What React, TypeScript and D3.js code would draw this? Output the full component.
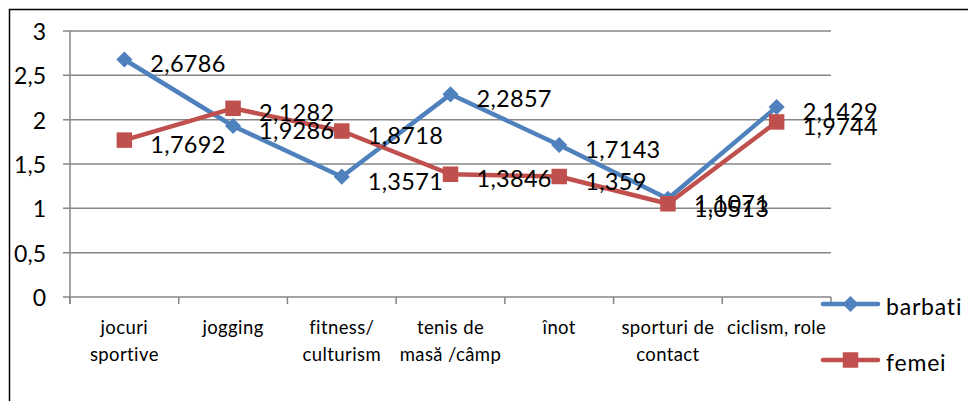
import * as d3 from 'd3';
import { useEffect, useRef } from 'react';

const categories = [
  ['jocuri', 'sportive'],
  ['jogging'],
  ['fitness/', 'culturism'],
  ['tenis de', 'masă /câmp'],
  ['înot'],
  ['sporturi de', 'contact'],
  ['ciclism, role'],
];
const barbati = [2.6786, 1.9286, 1.3571, 2.2857, 1.7143, 1.1071, 2.1429];
const femei = [1.7692, 2.1282, 1.8718, 1.3846, 1.359, 1.0513, 1.9744];
const yTicks = [0, 0.5, 1, 1.5, 2, 2.5, 3];

const W = 968;
const H = 401;
const FONT = 'Lato, "Open Sans", sans-serif';

export default function App() {
  const ref = useRef<SVGSVGElement>(null);

  useEffect(() => {
    const svg = d3.select(ref.current);
    svg.selectAll('*').remove();

    const left = 70, right = 831, top = 31, bottom = 297;
    const x = d3.scaleBand<number>().domain(d3.range(categories.length)).range([left, right]);
    const y = d3.scaleLinear().domain([0, 3]).range([bottom, top]);
    const cx = (i: number) => x(i)! + x.bandwidth() / 2;

    // outer frame
    svg.append('rect')
      .attr('x', 9.5).attr('y', 9.5)
      .attr('width', W + 20).attr('height', H + 20)
      .attr('fill', 'none').attr('stroke', '#000').attr('stroke-width', 1.5);

    // gridlines + y labels
    yTicks.forEach(t => {
      svg.append('line')
        .attr('x1', left - 7).attr('x2', right)
        .attr('y1', y(t)).attr('y2', y(t))
        .attr('stroke', '#868686').attr('stroke-width', 1.5);
      svg.append('text')
        .attr('x', 46).attr('y', y(t))
        .attr('text-anchor', 'end').attr('dominant-baseline', 'central')
        .attr('font-family', FONT).attr('font-size', 23)
        .text(String(t).replace('.', ','));
    });

    // y axis line
    svg.append('line')
      .attr('x1', left).attr('x2', left)
      .attr('y1', top).attr('y2', bottom + 7)
      .attr('stroke', '#868686').attr('stroke-width', 1.5);

    // category ticks
    d3.range(categories.length + 1).forEach(i => {
      const xx = i < categories.length ? x(i)! : right;
      svg.append('line')
        .attr('x1', xx).attr('x2', xx)
        .attr('y1', bottom).attr('y2', bottom + 7)
        .attr('stroke', '#868686').attr('stroke-width', 1.5);
    });

    // category labels
    categories.forEach((lines, i) => {
      const t = svg.append('text')
        .attr('text-anchor', 'middle')
        .attr('font-family', FONT).attr('font-size', 18.5)
        .attr('letter-spacing', 0.4);
      lines.forEach((ln, j) => {
        t.append('tspan').attr('x', cx(i)).attr('y', 334 + j * 27).text(ln);
      });
    });

    const line = d3.line<number>().x((_, i) => cx(i)).y(d => y(d));
    const series = [
      { name: 'barbati', data: barbati, color: '#4F81BD', rot: 45, size: 130 },
      { name: 'femei', data: femei, color: '#C0504D', rot: 0, size: 240 },
    ];

    series.forEach(s => {
      svg.append('path')
        .attr('d', line(s.data))
        .attr('fill', 'none').attr('stroke', s.color)
        .attr('stroke-width', 4.5).attr('stroke-linejoin', 'round');
      const sym = d3.symbol().type(d3.symbolSquare).size(s.size);
      s.data.forEach((v, i) => {
        svg.append('path')
          .attr('d', sym())
          .attr('transform', `translate(${cx(i)},${y(v)}) rotate(${s.rot})`)
          .attr('fill', s.color);
      });
    });

    // data labels
    series.forEach(s => {
      s.data.forEach((v, i) => {
        svg.append('text')
          .attr('x', cx(i) + 26).attr('y', y(v) + 4)
          .attr('dominant-baseline', 'central')
          .attr('font-family', FONT).attr('font-size', 23.5)
          .attr('letter-spacing', 0.3)
          .text(String(v).replace('.', ','));
      });
    });

    // legend
    series.forEach((s, k) => {
      const ly = 304 + k * 56;
      svg.append('line')
        .attr('x1', 823).attr('x2', 878).attr('y1', ly).attr('y2', ly)
        .attr('stroke', s.color).attr('stroke-width', 4.5).attr('stroke-linecap', 'round');
      svg.append('path')
        .attr('d', d3.symbol().type(d3.symbolSquare).size(s.size)())
        .attr('transform', `translate(850.5,${ly}) rotate(${s.rot})`)
        .attr('fill', s.color);
      svg.append('text')
        .attr('x', 886).attr('y', ly + 11)
        .attr('font-family', FONT).attr('font-size', 23)
        .attr('letter-spacing', 0.8)
        .text(s.name);
    });
  }, []);

  return (
    <svg ref={ref} width={W} height={H}
      style={{ position: 'absolute', left: 0, top: 0, background: '#fff' }} />
  );
}
